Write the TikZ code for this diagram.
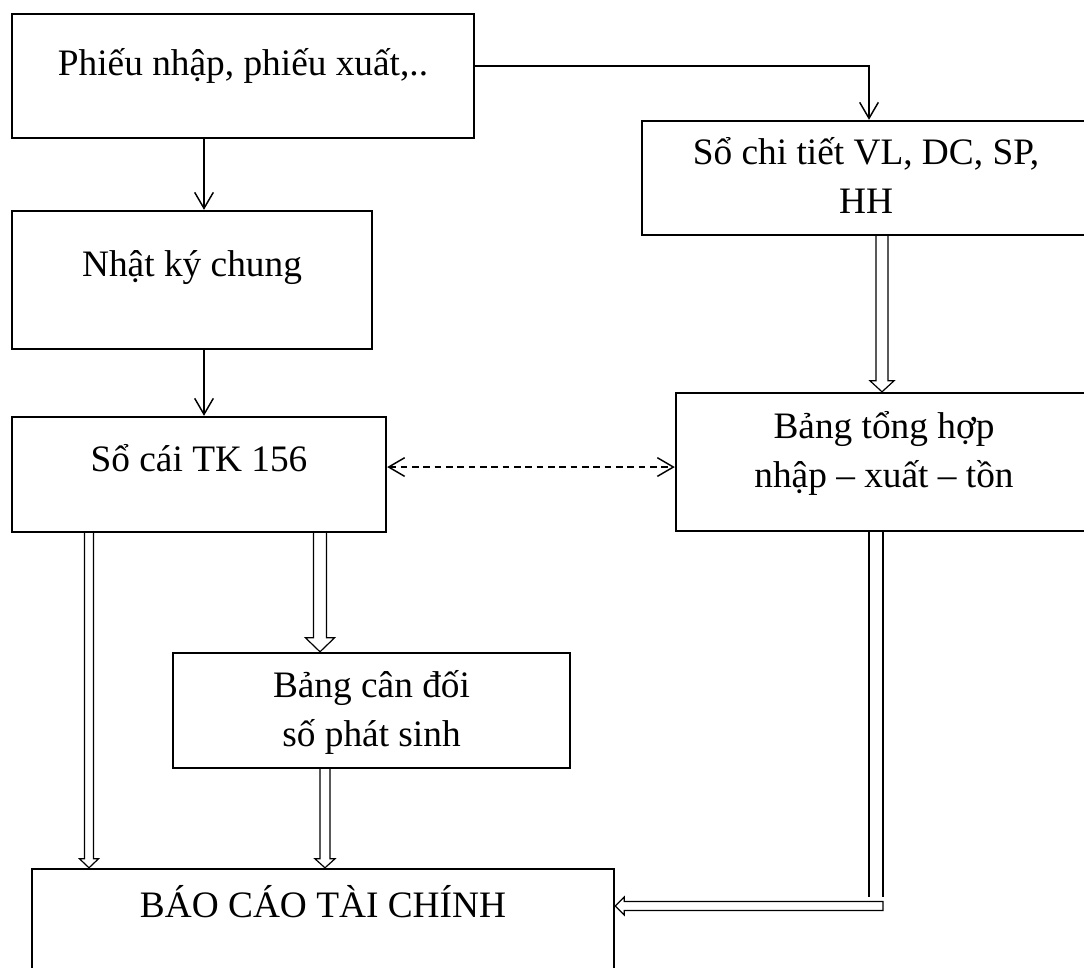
\documentclass[tikz,border=0pt]{standalone}
\usepackage{fontspec}
\setmainfont{Liberation Serif}
\usetikzlibrary{arrows.meta,calc}
\tikzset{
  box/.style={draw, line width=1.8pt, rectangle, inner sep=0pt,
    font=\fontsize{28}{37}\selectfont},
  conn/.style={line width=1.1pt, -{Straight Barb[length=12pt,width=14pt,line width=1.1pt]}},
  dashconn/.style={line width=1.1pt, dash pattern=on 5pt off 3.5pt,
    {Straight Barb[length=12pt,width=14pt,line width=1.1pt]}-{Straight Barb[length=12pt,width=14pt,line width=1.1pt]}},
  dblline/.style={line width=0.9pt, double, double distance=9.6pt},
  blkdown/.style n args={3}{line width=0.9pt, to path={
    let \p1=(\tikztostart), \p2=(\tikztotarget) in
    (\x1-#1,\y1) -- (\x1-#1,\y2+#3) -- (\x1-#2,\y2+#3) -- (\x1,\y2)
    -- (\x1+#2,\y2+#3) -- (\x1+#1,\y2+#3) -- (\x1+#1,\y1)}},
  blkleft/.style n args={3}{line width=0.9pt, to path={
    let \p1=(\tikztostart), \p2=(\tikztotarget) in
    (\x1,\y1+#1) -- (\x2+#3,\y1+#1) -- (\x2+#3,\y1+#2) -- (\x2,\y1)
    -- (\x2+#3,\y1-#2) -- (\x2+#3,\y1-#1) -- (\x1,\y1-#1) -- cycle}}
}
\newcommand{\twolines}[2]{\begin{tabular}[t]{@{}c@{}}#1\\#2\end{tabular}}
\begin{document}
\begin{tikzpicture}[x=0.75pt,y=-0.75pt]
\useasboundingbox (0,0) rectangle (1084,967);

\node[box, minimum width=346.5pt, minimum height=93pt, text height=15pt, text depth=16.5pt]
  (P) at (243,76) {Phiếu nhập, phiếu xuất,..};
\node[box, minimum width=270pt, minimum height=103.5pt, text height=15pt, text depth=21pt]
  (NK) at (192,280) {Nhật ký chung};
\node[box, minimum width=280.5pt, minimum height=86.25pt, text height=15pt, text depth=20.25pt]
  (SC) at (199,474.5) {Sổ cái TK 156};
\node[box, minimum width=336pt, minimum height=85.5pt, text height=15pt, text depth=36pt]
  (CT) at (866,178) {\twolines{Sổ chi tiết VL, DC, SP,}{HH}};
\node[box, minimum width=312pt, minimum height=103.5pt, text height=15pt, text depth=51pt]
  (TH) at (884,462) {\twolines{Bảng tổng hợp}{nhập – xuất – tồn}};
\node[box, minimum width=297.75pt, minimum height=86.25pt, text height=15pt, text depth=35.25pt]
  (CD) at (371.5,710.5) {\twolines{Bảng cân đối}{số phát sinh}};
\node[box, minimum width=436.5pt, minimum height=98.25pt, text height=15pt, text depth=41.25pt]
  (BC) at (323,934.5) {BÁO CÁO TÀI CHÍNH};

% single arrows
\draw[conn] ([yshift=7.5pt]P.east) -| ([xshift=2.25pt]CT.north);
\draw[conn] ([xshift=-29.25pt]P.south) -- ([xshift=9pt]NK.north);
\draw[conn] ([xshift=9pt]NK.south) -- ([xshift=3.75pt]SC.north);
% dashed double-headed
\draw[dashconn] ([yshift=5.6pt]SC.east) -- ([yshift=5.6pt]SC.east -| TH.west);

% hollow block arrows
\draw[blkdown={4.5pt}{9pt}{8.25pt}] ([xshift=12pt]CT.south) to (TH.north);
\draw[blkdown={3.4pt}{7.1pt}{6.75pt}] ([xshift=-82.5pt]SC.south) to (BC.north);
\draw[blkdown={4.9pt}{10.9pt}{10.5pt}] ([xshift=90.75pt]SC.south) to (CD.north);
\draw[blkdown={3.75pt}{7.5pt}{6.75pt}] ([xshift=-34.9pt]CD.south) to (BC.north);

% from Bảng tổng hợp down and left to Báo cáo
\coordinate (K1) at (876,897);
\coordinate (K2) at (883,906);
\draw[dblline] ([xshift=-6pt]TH.south) -- (K1);
\draw[blkleft={3.4pt}{6.75pt}{6.75pt}] (K2) to (BC.east);
\end{tikzpicture}
\end{document}
